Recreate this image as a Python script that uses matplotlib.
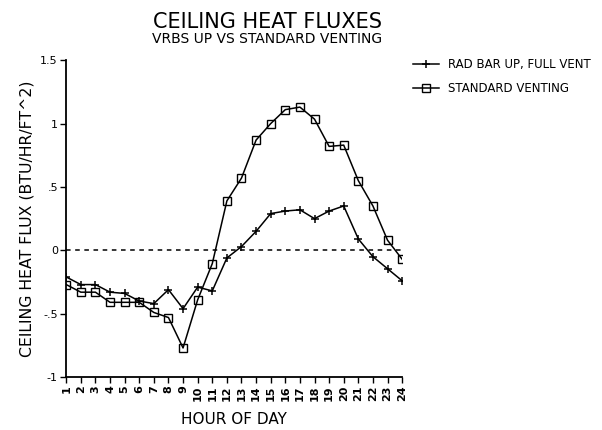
import matplotlib.pyplot as plt

hours = list(range(1, 25))
rad_bar = [-0.21, -0.27, -0.27, -0.33, -0.34, -0.40, -0.42, -0.31, -0.46, -0.29, -0.32, -0.06,
           0.03, 0.15, 0.29, 0.31, 0.32, 0.25, 0.31, 0.35, 0.09, -0.05, -0.145, -0.24]
standard = [-0.27, -0.33, -0.33, -0.41, -0.41, -0.41, -0.49, -0.53, -0.77, -0.39, -0.105, 0.39,
            0.57, 0.87, 1.0, 1.11, 1.13, 1.035, 0.82, 0.83, 0.55, 0.35, 0.08, -0.07]
yticks = [-1, -0.5, 0, 0.5, 1, 1.5]
ytick_labels = ['-1', '-.5', '0', '.5', '1', '1.5']

plt.rcParams['font.family'] = 'DejaVu Sans'
fig = plt.figure(figsize=(6.02, 4.30), dpi=100)
ax = fig.add_axes([0.110, 0.123, 0.558, 0.737])

ax.plot(hours, rad_bar, color='black', lw=1.1, marker='+', ms=6, mew=1.1,
        label='RAD BAR UP, FULL VENT')
ax.plot(hours, standard, color='black', lw=1.1, marker='s', ms=6, mfc='none', mew=1.0,
        label='STANDARD VENTING')
ax.axhline(0, color='black', lw=1.1, ls=(0, (3, 3)))

ax.set_xlim(1, 24)
ax.set_ylim(-1, 1.5)
ax.set_xticks(hours)
ax.set_xticklabels([str(h) for h in hours], rotation=90, fontsize=8, fontweight='bold')
ax.set_yticks(yticks)
ax.set_yticklabels(ytick_labels, fontsize=8)
ax.tick_params(direction='out', length=4, width=1, pad=2)
ax.spines['top'].set_visible(False)
ax.spines['right'].set_visible(False)
for s in ['left', 'bottom']:
    ax.spines[s].set_linewidth(1.3)

ax.set_xlabel('HOUR OF DAY', fontsize=11, labelpad=8)
ax.set_ylabel('CEILING HEAT FLUX (BTU/HR/FT^2)', fontsize=11.3, labelpad=4)

fig.text(0.444, 0.950, 'CEILING HEAT FLUXES', ha='center', va='center', fontsize=15)
fig.text(0.444, 0.910, 'VRBS UP VS STANDARD VENTING', ha='center', va='center', fontsize=10)

ax.legend(loc='upper left', bbox_to_anchor=(1.0, 1.04), frameon=False, fontsize=8.5,
          handlelength=2.2, handletextpad=0.8, labelspacing=0.9)

fig.savefig('out.png', dpi=100)
